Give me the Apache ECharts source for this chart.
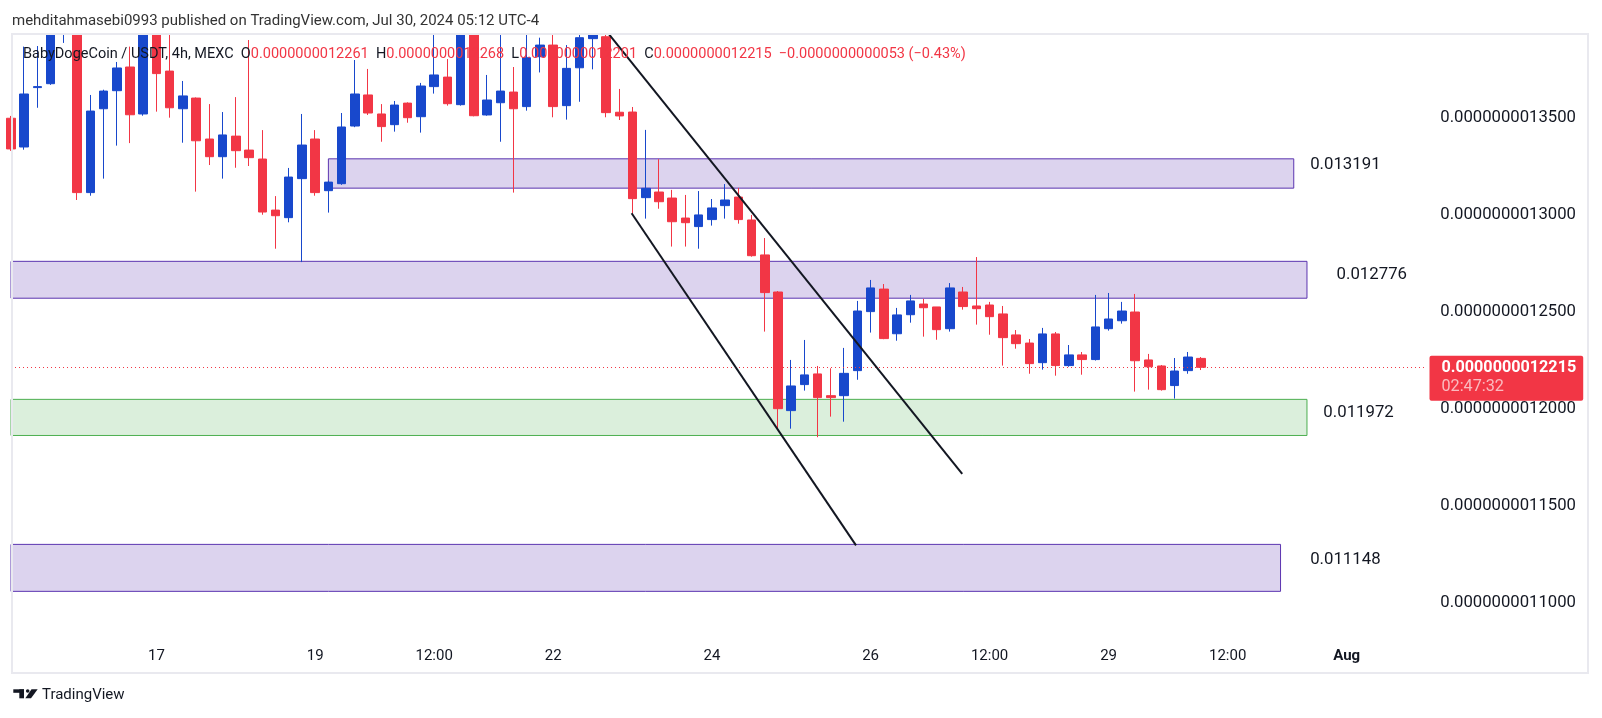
<!DOCTYPE html>
<html>
<head>
<meta charset="utf-8">
<title>BabyDogeCoin / USDT, 4h</title>
<script src="https://cdn.jsdelivr.net/npm/echarts@6/dist/echarts.min.js"></script>
<style>
  html, body { margin: 0; padding: 0; background: #fff; }
  #chart { width: 1602px; height: 718px; }
</style>
</head>
<body>
<div id="chart"></div>
<script>
// prices kept in units of 1e-13 USDT (12215 -> 0.0000000012215)
const PRICE_UNIT = 1e-13;

// 4h candles, index 0 = Jul 15 04:00 (UTC-4), last = Jul 30 04:00
const opens = [13498, 13350, 13656, 13676, 13960, 14060, 13115, 13547, 13640, 13762,
  13520, 14010, 13741, 13547, 13602, 13391, 13300, 13406, 13334, 13288,
  13025, 12986, 13187, 13391, 13125, 13161, 13458, 13618, 13520, 13465,
  13576, 13506, 13661, 13710, 13568, 14060, 13515, 13578, 13633, 13558,
  13815, 13875, 13563, 13758, 13908, 13918, 13529, 13530, 13089, 13118,
  13087, 12984, 12940, 12976, 13048, 13092, 12974, 12794, 12603, 11992,
  12126, 12181, 12069, 12069, 12198, 12502, 12618, 12388, 12486, 12541,
  12526, 12414, 12603, 12531, 12536, 12490, 12382, 12340, 12239, 12387,
  12224, 12279, 12255, 12414, 12455, 12500, 12253, 12222, 12121, 12198,
  12261];
const closes = [13340, 13623, 13661, 14000, 14080, 13115, 13535, 13638, 13757, 13516,
  14020, 13728, 13552, 13613, 13382, 13300, 13412, 13331, 13295, 13015,
  12996, 13195, 13360, 13115, 13169, 13453, 13623, 13525, 13455, 13566,
  13501, 13664, 13721, 13573, 14040, 13511, 13592, 13638, 13547, 13810,
  13875, 13558, 13755, 13913, 13950, 13527, 13510, 13084, 13137, 13068,
  12965, 12960, 13000, 13036, 13077, 12976, 12790, 12600, 12002, 12119,
  12176, 12059, 12059, 12184, 12505, 12624, 12363, 12485, 12557, 12522,
  12409, 12624, 12528, 12517, 12476, 12368, 12337, 12234, 12387, 12224,
  12279, 12255, 12423, 12464, 12505, 12249, 12218, 12100, 12196, 12268,
  12215];
const lows = [13330, 13336, 13552, 13670, 13886, 13077, 13099, 13187, 13357, 13370,
  13511, 13532, 13501, 13372, 13120, 13257, 13187, 13243, 13252, 13001,
  12826, 12962, 12757, 13099, 13012, 13155, 13452, 13515, 13377, 13429,
  13475, 13424, 13625, 13563, 13563, 13508, 13511, 13377, 13115, 13537,
  13734, 13503, 13491, 13583, 13750, 13503, 13489, 13008, 12981, 13032,
  12837, 12837, 12826, 12945, 12981, 12955, 12785, 12399, 11901, 11899,
  12095, 11855, 11961, 11935, 12151, 12394, 12360, 12352, 12445, 12373,
  12357, 12399, 12512, 12435, 12383, 12224, 12311, 12182, 12203, 12172,
  12218, 12177, 12250, 12404, 12440, 12090, 12100, 12095, 12054, 12182,
  12201];
const highs = [13510, 13867, 13870, 14050, 14120, 14100, 13618, 13645, 13788, 13867,
  14060, 14040, 13935, 13690, 13605, 13571, 13530, 13607, 13901, 13437,
  13097, 13242, 13520, 13437, 13175, 13525, 13798, 13752, 13571, 13587,
  13580, 13680, 13950, 13803, 14080, 14100, 13721, 13960, 13762, 13950,
  13913, 13945, 13875, 13945, 13990, 13945, 13649, 13556, 13438, 13287,
  13129, 13103, 13123, 13082, 13159, 13139, 13000, 12881, 12608, 12253,
  12356, 12222, 12210, 12315, 12557, 12665, 12644, 12521, 12588, 12567,
  12526, 12649, 12629, 12783, 12552, 12531, 12407, 12361, 12418, 12397,
  12330, 12294, 12588, 12598, 12552, 12593, 12284, 12227, 12263, 12294,
  12268];

// time scale labels (candle index -> text)
const timeTickIndex = [11, 23, 32, 41, 53, 65, 74, 83, 92, 101];
const timeTickLabels = ['17', '19', '12:00', '22', '24', '26', '12:00', '29', '12:00', 'Aug'];

// drawn rectangles
const zoneNames = ['0.013191', '0.012776', '0.011972', '0.011148'];
const zoneTop = [13289, 12761, 12050, 11303];
const zoneBottom = [13138, 12571, 11864, 11061];
const zoneStart = [24, 0, 0, 0];
const zoneEnd = [97, 98, 98, 96];
const zoneKind = ['supply', 'supply', 'demand', 'supply'];
// where each rectangle's note sits [index, price]
const zoneNoteAt = [[98.2, 13267], [100.2, 12701], [99.2, 11988], [98.2, 11230]];

// trend lines [index, price]
const upperTrend = [[44.8, 13966], [71.93, 11666]];
const lowerTrend = [[46.93, 13009], [63.9, 11298]];

const countdown = '02:47:32';

const UP = '#1848CC';
const DOWN = '#F23645';
const TEXT = '#131722';
const FONT = 'Roboto, sans-serif';

const fmt = v => (v * PRICE_UNIT).toFixed(13);

const candleData = opens.map((o, i) => [i, o, closes[i], lows[i], highs[i]]);
const last = opens.length - 1;
const lastClose = closes[last];
const change = lastClose - closes[last - 1];
const changePct = (change / closes[last - 1] * 100).toFixed(2);

const zoneStyle = {
  supply: { color: 'rgba(94, 53, 177, 0.22)', borderColor: '#5b34b0', borderWidth: 1 },
  demand: { color: 'rgba(76, 175, 80, 0.2)', borderColor: '#4caf50', borderWidth: 1 }
};

const areas = zoneTop.map((t, i) => [
  { coord: [zoneStart[i], t], itemStyle: zoneStyle[zoneKind[i]] },
  { coord: [zoneEnd[i], zoneBottom[i]] }
]);

const legendText =
  '{s|BabyDogeCoin / USDT, 4h, MEXC}  ' +
  '{k|O}{v|' + fmt(opens[last]) + '}  ' +
  '{k|H}{v|' + fmt(highs[last]) + '}  ' +
  '{k|L}{v|' + fmt(lows[last]) + '}  ' +
  '{k|C}{v|' + fmt(lastClose) + '}  ' +
  '{v|' + fmt(change).replace('-', '\u2212') + ' (' + changePct.replace('-', '\u2212') + '%)}';

const chart = echarts.init(document.getElementById('chart'));

chart.setOption({
  animation: false,
  backgroundColor: '#ffffff',
  textStyle: { fontFamily: FONT },
  grid: { left: 11, right: 176, top: 20.8, bottom: 114.8 },
  xAxis: {
    type: 'value',
    min: 0,
    max: 107,
    interval: 1,
    axisLine: { show: false },
    axisTick: { show: false },
    splitLine: { show: false },
    axisLabel: {
      margin: 46,
      color: TEXT,
      fontSize: 15,
      fontFamily: FONT,
      formatter: function (val) {
        const k = timeTickIndex.indexOf(Math.round(val));
        if (k < 0) return '';
        const t = timeTickLabels[k];
        return /^[A-Z]/.test(t) ? '{m|' + t + '}' : t;
      },
      rich: { m: { fontWeight: 'bold', fontSize: 15, color: TEXT, fontFamily: FONT } }
    }
  },
  yAxis: {
    type: 'value',
    position: 'right',
    min: 11000,
    max: 14000,
    interval: 500,
    axisLine: { show: false },
    axisTick: { show: false },
    splitLine: { show: false },
    axisLabel: {
      align: 'right',
      margin: 150,
      padding: [6, 0, 0, 0],
      color: TEXT,
      fontSize: 16.7,
      fontFamily: FONT,
      formatter: v => (v >= 14000 ? '' : fmt(v))
    }
  },
  series: [
    {
      name: 'BabyDogeCoin / USDT',
      type: 'candlestick',
      data: candleData,
      encode: { x: 0, y: [1, 2, 3, 4] },
      barWidth: 9,
      itemStyle: {
        color: UP, color0: DOWN,
        borderColor: UP, borderColor0: DOWN,
        borderWidth: 1
      },
      markArea: {
        silent: true,
        data: areas
      },
      markLine: {
        silent: true,
        symbol: ['none', 'none'],
        label: { show: false },
        data: [
          { yAxis: lastClose, lineStyle: { color: DOWN, type: [1, 3], width: 1 } },
          [{ coord: upperTrend[0], lineStyle: { color: TEXT, width: 2, type: 'solid' } }, { coord: upperTrend[1] }],
          [{ coord: lowerTrend[0], lineStyle: { color: TEXT, width: 2, type: 'solid' } }, { coord: lowerTrend[1] }]
        ]
      }
    },
    {
      name: 'notes',
      type: 'scatter',
      silent: true,
      clip: false,
      symbolSize: 1,
      itemStyle: { color: 'transparent', opacity: 1 },
      data: zoneNames.map((n, i) => ({ name: n, value: zoneNoteAt[i] })),
      label: {
        show: true,
        position: 'right',
        distance: 0,
        offset: [0, 1.5],
        opacity: 1,
        formatter: p => p.name,
        color: TEXT,
        fontSize: 16.8,
        fontFamily: FONT
      }
    },
    {
      name: 'last price',
      type: 'scatter',
      silent: true,
      clip: false,
      symbolSize: 1,
      itemStyle: { color: 'transparent', opacity: 1 },
      data: [[107, lastClose]],
      label: {
        show: true,
        position: 'right',
        distance: 3,
        offset: [0, 11],
        opacity: 1,
        backgroundColor: DOWN,
        borderRadius: 2,
        padding: [3, 7, 4, 12],
        formatter: '{p|' + fmt(lastClose) + '}\n{t|' + countdown + '}',
        rich: {
          p: { color: '#ffffff', fontWeight: 'bold', fontSize: 16.2, lineHeight: 19, fontFamily: FONT },
          t: { color: 'rgba(255,255,255,0.66)', fontSize: 16.2, lineHeight: 19, fontFamily: FONT }
        }
      }
    }
  ],
  graphic: [
    { type: 'rect', z: 100, shape: { x: 0, y: 0, width: 1602, height: 33 }, style: { fill: '#ffffff' } },
    { type: 'rect', z: 101, shape: { x: 12, y: 34, width: 1576, height: 639 }, style: { fill: 'none', stroke: '#e9e9ef', lineWidth: 2 } },
    {
      type: 'text', z: 102, left: 12, top: 14,
      style: { text: 'mehditahmasebi0993 published on TradingView.com, Jul 30, 2024 05:12 UTC-4', fill: '#333333', font: '15px ' + FONT }
    },
    {
      type: 'text', z: 102, left: 23, top: 46.5,
      style: {
        text: legendText,
        font: '14.5px ' + FONT,
        rich: {
          s: { fill: TEXT, fontSize: 14.5, fontFamily: FONT },
          k: { fill: TEXT, fontSize: 14.5, fontFamily: FONT },
          v: { fill: DOWN, fontSize: 14.5, fontFamily: FONT }
        }
      }
    },
    // TradingView logomark
    { type: 'rect', z: 102, shape: { x: 13.3, y: 689.3, width: 10.7, height: 3.5 }, style: { fill: TEXT } },
    { type: 'rect', z: 102, shape: { x: 19.3, y: 689.3, width: 4.7, height: 9 }, style: { fill: TEXT } },
    { type: 'circle', z: 102, shape: { cx: 27.7, cy: 691, r: 1.8 }, style: { fill: TEXT } },
    { type: 'polygon', z: 102, shape: { points: [[31.5, 689.3], [37.7, 689.3], [31, 698.3], [25.3, 698.3]] }, style: { fill: TEXT } },
    {
      type: 'text', z: 102, left: 42, top: 687.5,
      style: { text: 'TradingView', fill: TEXT, font: '15px ' + FONT }
    }
  ]
});
</script>
</body>
</html>
